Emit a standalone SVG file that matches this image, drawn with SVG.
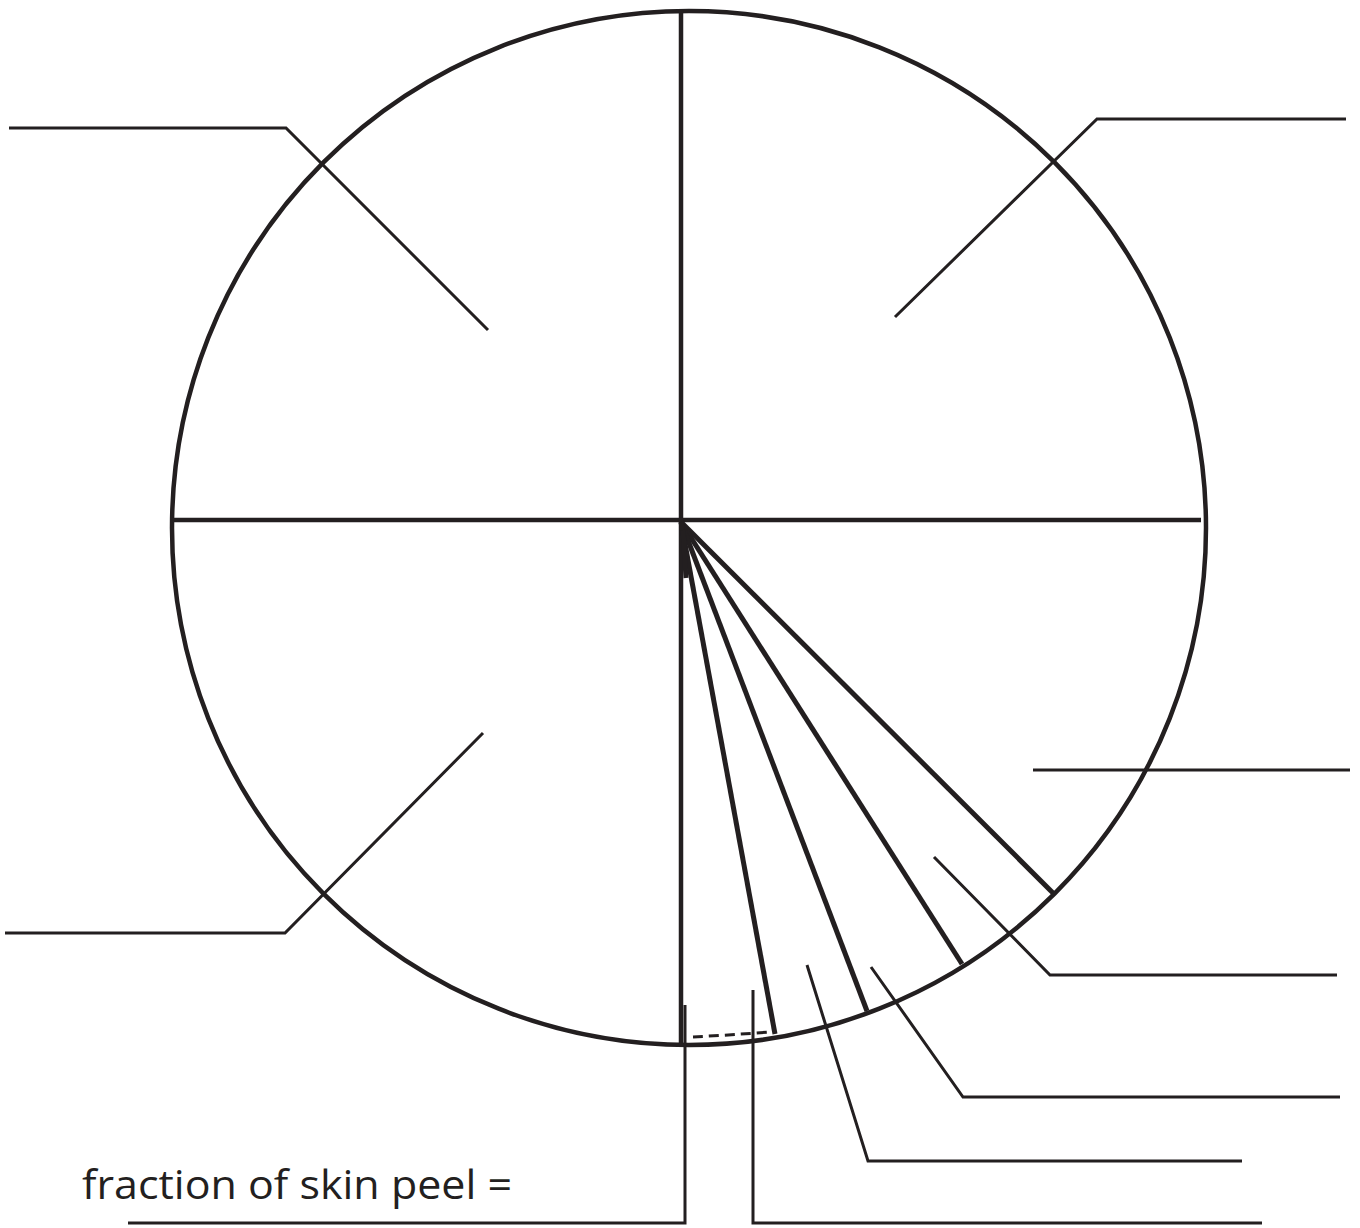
<svg xmlns="http://www.w3.org/2000/svg" width="1360" height="1228" viewBox="0 0 1360 1228">
<style>
.axis{stroke:#231f20;stroke-width:4.5;fill:none}
.spoke{stroke:#231f20;stroke-width:5;fill:none;stroke-linecap:butt}
.lead{stroke:#231f20;stroke-width:3;fill:none}
.lbl{font-family:"Open Sans","Noto Sans","Liberation Sans",sans-serif;font-size:40px;fill:#231f20}
</style>
<rect width="1360" height="1228" fill="#fff"/>
<g id="circle">
<circle cx="689" cy="528" r="517" class="axis"/>
</g>
<g id="axes">
<line x1="681" y1="10" x2="681" y2="1046" class="axis"/>
<line x1="172" y1="520" x2="1201" y2="520" class="axis"/>
</g>
<g id="spokes">
<line x1="681" y1="522" x2="1053" y2="893" class="spoke"/>
<line x1="681" y1="522" x2="962" y2="964" class="spoke"/>
<line x1="681" y1="522" x2="867" y2="1011" class="spoke"/>
<line x1="681" y1="522" x2="775" y2="1034" class="spoke"/>
<line x1="683" y1="530" x2="686" y2="578" class="spoke"/>
<path d="M693 1037 Q730 1035 770 1032" class="lead" stroke-width="2" stroke-dasharray="10 6"/>
</g>
<g id="connectors">
<polyline points="9,128 286,128 488,330" class="lead"/>
<polyline points="1346,119 1097,119 895,317" class="lead"/>
<polyline points="5,933 285,933 483,733" class="lead"/>
<line x1="1033" y1="770" x2="1350" y2="770" class="lead"/>
<polyline points="1337,975 1050,975 934,857" class="lead"/>
<polyline points="1340,1097 963,1097 871,967" class="lead"/>
<polyline points="1242,1161 868,1161 807,965" class="lead"/>
<polyline points="753,990 753,1223 1262,1223" class="lead"/>
<polyline points="685,1005 685,1223 128,1223" class="lead"/>
</g>
<g id="label">
<text x="82" y="1199" class="lbl" textLength="430" lengthAdjust="spacingAndGlyphs">fraction of skin peel =</text>
</g>
</svg>
